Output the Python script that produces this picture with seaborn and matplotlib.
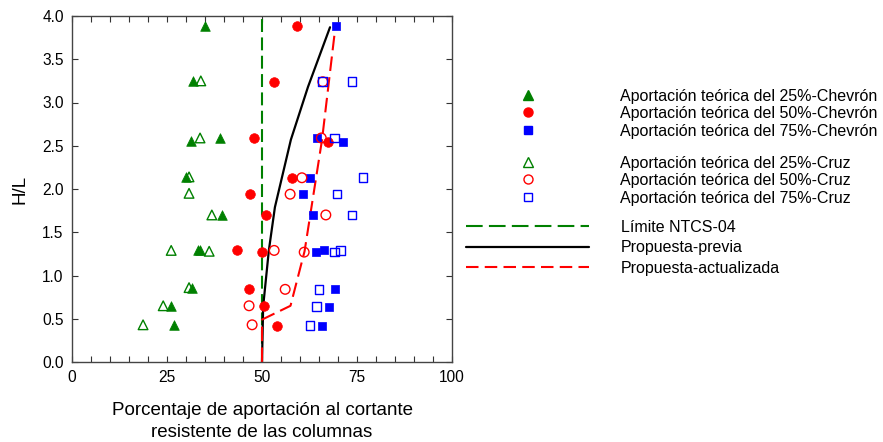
import matplotlib
matplotlib.use("Agg")
import matplotlib.pyplot as plt
from matplotlib.lines import Line2D
from matplotlib.ticker import MultipleLocator, FormatStrFormatter
import seaborn as sns

# ---------------- data ----------------
chev25_x = [35.0, 31.8, 31.3, 38.9, 30.0, 39.5, 33.2, 33.8, 31.6, 26.1, 26.8]
chev25_y = [3.89, 3.25, 2.55, 2.59, 2.14, 1.70, 1.29, 1.29, 0.86, 0.65, 0.43]
cruz25_x = [33.9, 33.7, 30.8, 30.8, 36.8, 26.1, 36.1, 30.8, 24.0, 18.7]
cruz25_y = [3.25, 2.59, 2.14, 1.95, 1.70, 1.29, 1.28, 0.86, 0.65, 0.43]

chev50_x = [59.1, 53.2, 48.0, 67.3, 58.0, 46.9, 51.1, 43.3, 49.9, 46.6, 50.6, 53.9]
chev50_y = [3.88, 3.24, 2.59, 2.54, 2.13, 1.94, 1.70, 1.29, 1.27, 0.84, 0.65, 0.42]
cruz50_x = [66.0, 65.6, 60.5, 57.4, 66.8, 53.2, 61.1, 56.1, 46.6, 47.4]
cruz50_y = [3.24, 2.59, 2.13, 1.94, 1.70, 1.29, 1.27, 0.84, 0.65, 0.43]

chev75_x = [69.4, 64.5, 71.3, 62.6, 60.8, 63.4, 64.2, 66.3, 69.2, 67.6, 65.8]
chev75_y = [3.88, 2.59, 2.54, 2.13, 1.94, 1.70, 1.27, 1.29, 0.84, 0.64, 0.42]
cruz75_x = [65.9, 73.7, 69.0, 76.6, 69.7, 73.7, 69.0, 70.7, 65.0, 64.4, 62.6]
cruz75_y = [3.24, 3.24, 2.59, 2.13, 1.94, 1.70, 1.27, 1.29, 0.84, 0.64, 0.42]

ntcs_x = [50.0, 50.0]
ntcs_y = [0.0, 4.0]
previa_x = [50.0, 50.3, 51.8, 53.4, 55.5, 57.6, 62.1, 67.9]
previa_y = [0.0, 0.64, 1.29, 1.79, 2.18, 2.57, 3.18, 3.87]
actual_x = [50.0, 50.0, 57.5, 61.2, 65.8, 69.3]
actual_y = [0.0, 0.49, 0.65, 1.28, 2.57, 3.87]

x_ticks = [0, 25, 50, 75, 100]
labels_markers = [
    "Aportación teórica del 25%-Chevrón",
    "Aportación teórica del 50%-Chevrón",
    "Aportación teórica del 75%-Chevrón",
    "Aportación teórica del 25%-Cruz",
    "Aportación teórica del 50%-Cruz",
    "Aportación teórica del 75%-Cruz",
]
labels_lines = ["Límite NTCS-04", "Propuesta-previa", "Propuesta-actualizada"]

# ---------------- style ----------------
sns.set_style("ticks")
plt.rcParams["font.family"] = ["Liberation Sans", "DejaVu Sans"]
plt.rcParams["text.color"] = "black"
plt.rcParams["axes.labelcolor"] = "black"
plt.rcParams["xtick.color"] = "black"
plt.rcParams["ytick.color"] = "black"
FS = 11.5
TFS = 11.2
LFS = 13.5

GREEN = "#008000"
RED = "#ff0000"
BLUE = "#0000ff"
GREEN_DASH = (0, (6.2, 2.6))
RED_DASH = (0, (7.0, 3.0))

fig = plt.figure(figsize=(8.83, 4.42), dpi=100)
ax = fig.add_axes([72 / 883, 1 - 362 / 442, 380 / 883, 346 / 442])

# lines
sns.lineplot(x=ntcs_x, y=ntcs_y, ax=ax, color=GREEN, lw=1.5, sort=False,
             estimator=None, linestyle=GREEN_DASH, zorder=2)
sns.lineplot(x=previa_x, y=previa_y, ax=ax, color="black", lw=1.6, sort=False,
             estimator=None, zorder=2)
sns.lineplot(x=actual_x, y=actual_y, ax=ax, color=RED, lw=1.5, sort=False,
             estimator=None, linestyle=RED_DASH, zorder=2)

S = 48
series = [
    (chev25_x, chev25_y, "^", GREEN, True),
    (chev50_x, chev50_y, "o", RED, True),
    (chev75_x, chev75_y, "s", BLUE, True),
    (cruz25_x, cruz25_y, "^", GREEN, False),
    (cruz50_x, cruz50_y, "o", RED, False),
    (cruz75_x, cruz75_y, "s", BLUE, False),
]
for xs, ys, m, c, filled in series:
    size = S * (0.8 if m == "s" else 1.0)
    if filled:
        sns.scatterplot(x=xs, y=ys, ax=ax, marker=m, s=size, color=c,
                        edgecolor=c, linewidth=0.5, zorder=3)
    else:
        sns.scatterplot(x=xs, y=ys, ax=ax, marker=m, s=size, facecolor="none",
                        edgecolor=c, linewidth=1.0, zorder=3)

ax.set_xlim(0, 100)
ax.set_ylim(0, 4.0)
ax.set_xticks(x_ticks)
ax.xaxis.set_minor_locator(MultipleLocator(5))
ax.yaxis.set_major_locator(MultipleLocator(0.5))
ax.yaxis.set_major_formatter(FormatStrFormatter("%.1f"))
ax.tick_params(which="both", direction="in", top=True, right=True,
               length=4, width=0.8, color="#333333", labelsize=TFS, pad=6,
               labelcolor="black")
for sp in ax.spines.values():
    sp.set_color("#444444")
    sp.set_linewidth(1.0)

ax.set_xlabel("Porcentaje de aportación al cortante\nresistente de las columnas",
              fontsize=LFS, labelpad=12, linespacing=1.4)
ax.set_ylabel("H/L", fontsize=LFS, labelpad=10)

# ---------------- legends ----------------
def mk(m, c, filled):
    return Line2D([], [], linestyle="none", marker=m,
                  markersize=5.8 if m == "s" else 6.5,
                  markerfacecolor=c if filled else "none", markeredgecolor=c,
                  markeredgewidth=1.0)

common = dict(frameon=False, fontsize=FS, handletextpad=5.25, labelspacing=0.16,
              borderpad=0, borderaxespad=0, loc="upper left", handlelength=1.0)
h1 = [mk(m, c, f) for _, _, m, c, f in series[:3]]
fig.legend(h1, labels_markers[:3], bbox_to_anchor=(520 / 883, 1 - 88.5 / 442), **common)
h2 = [mk(m, c, f) for _, _, m, c, f in series[3:]]
fig.legend(h2, labels_markers[3:], bbox_to_anchor=(520 / 883, 1 - 155.5 / 442), **common)
h3 = [Line2D([], [], color=GREEN, lw=1.5, linestyle=(0, (8, 3))),
      Line2D([], [], color="black", lw=1.6),
      Line2D([], [], color=RED, lw=1.5, linestyle=(0, (6, 3)))]
fig.legend(h3, labels_lines, bbox_to_anchor=(466 / 883, 1 - 220 / 442),
           frameon=False, fontsize=FS, handletextpad=2.0, labelspacing=0.34,
           borderpad=0, borderaxespad=0, loc="upper left", handlelength=7.7)

fig.savefig("out.png", dpi=100)
